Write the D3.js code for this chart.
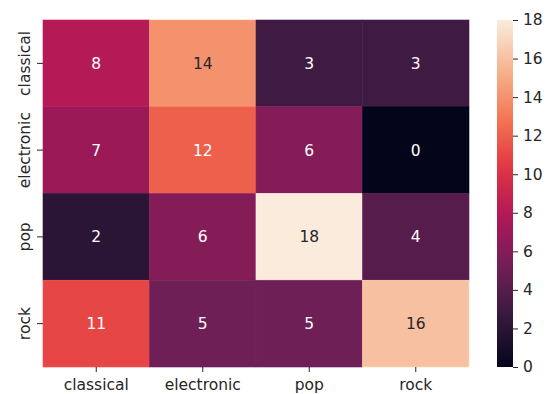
<!DOCTYPE html>
<html>
<head>
<meta charset="utf-8">
<script src="https://cdn.jsdelivr.net/npm/d3@7"></script>
<style>
  html, body { margin: 0; padding: 0; background: #fff; }
  svg text { font-family: "DejaVu Sans", sans-serif; }
</style>
</head>
<body>
<svg id="chart" width="556" height="394"></svg>
<script>
// Confusion-style count matrix: rows = true genre, columns = predicted genre
const rowLabels = ["classical", "electronic", "pop", "rock"];
const colLabels = ["classical", "electronic", "pop", "rock"];
const counts = [
  [8, 14, 3, 3],
  [7, 12, 6, 0],
  [2, 6, 18, 4],
  [11, 5, 5, 16]
];
const colorbarTicks = [0, 2, 4, 6, 8, 10, 12, 14, 16, 18];

// Rocket-like colour ramp stops
const rocketStops = ["#03051a", "#35193e", "#701f57", "#ad1759", "#e13342", "#f37651", "#f6b48f", "#faebdd"];
const rocket = d3.scaleLinear()
  .domain(rocketStops.map((_, i) => i / (rocketStops.length - 1)))
  .range(rocketStops)
  .interpolate(d3.interpolateRgb);

const svg = d3.select("#chart");
const plot = { left: 43, top: 20, right: 469, bottom: 367 };
const fs = 15.5;

const x = d3.scaleBand().domain(colLabels).range([plot.left, plot.right]);
const y = d3.scaleBand().domain(rowLabels).range([plot.top, plot.bottom]);
const color = d3.scaleSequential(rocket).domain([0, 18]);

const cells = [];
counts.forEach((row, i) => row.forEach((v, j) => cells.push({ r: rowLabels[i], c: colLabels[j], v })));

svg.append("g").selectAll("rect").data(cells).join("rect")
  .attr("x", d => x(d.c))
  .attr("y", d => y(d.r))
  .attr("width", x.bandwidth())
  .attr("height", y.bandwidth())
  .attr("fill", d => color(d.v))
  .attr("stroke", d => d3.color(color(d.v)).brighter(0.35))
  .attr("stroke-width", 0.6);

function luminance(c) {
  const rgb = d3.rgb(c);
  const f = u => { u /= 255; return u <= 0.03928 ? u / 12.92 : Math.pow((u + 0.055) / 1.055, 2.4); };
  return 0.2126 * f(rgb.r) + 0.7152 * f(rgb.g) + 0.0722 * f(rgb.b);
}

svg.append("g").selectAll("text").data(cells).join("text")
  .attr("x", d => x(d.c) + x.bandwidth() / 2)
  .attr("y", d => y(d.r) + y.bandwidth() / 2)
  .attr("dy", "0.36em")
  .attr("text-anchor", "middle")
  .attr("font-size", fs)
  .attr("fill", d => luminance(color(d.v)) > 0.408 ? "#262626" : "#ffffff")
  .text(d => d.v);

// Axes
const xAxis = svg.append("g")
  .attr("transform", `translate(0,${plot.bottom})`)
  .call(d3.axisBottom(x).tickSize(5).tickPadding(5));
const yAxis = svg.append("g")
  .attr("transform", `translate(${plot.left},0)`)
  .call(d3.axisLeft(y).tickSize(6).tickPadding(5));

[xAxis, yAxis].forEach(g => {
  g.select(".domain").remove();
  g.selectAll(".tick line").attr("stroke", "#262626").attr("stroke-width", 1);
  g.selectAll(".tick text").attr("fill", "#262626").attr("font-size", fs).attr("font-family", "DejaVu Sans");
});
xAxis.selectAll(".tick text").attr("dy", "0.85em");
yAxis.selectAll(".tick text")
  .attr("text-anchor", "middle")
  .attr("x", 0)
  .attr("y", -13)
  .attr("dy", "0")
  .attr("transform", "rotate(-90)");

// Colour bar
const cb = { x: 497, w: 16, top: 20, bottom: 367 };
const cbScale = d3.scaleLinear().domain([0, 18]).range([cb.bottom, cb.top]);
const defs = svg.append("defs");
const grad = defs.append("linearGradient").attr("id", "rocketGrad")
  .attr("x1", 0).attr("y1", 1).attr("x2", 0).attr("y2", 0);
d3.range(0, 1.0001, 0.05).forEach(t => {
  grad.append("stop").attr("offset", t).attr("stop-color", rocket(t));
});
svg.append("rect")
  .attr("x", cb.x).attr("y", cb.top)
  .attr("width", cb.w).attr("height", cb.bottom - cb.top)
  .attr("fill", "url(#rocketGrad)");

const cbAxis = svg.append("g")
  .attr("transform", `translate(${cb.x + cb.w},0)`)
  .call(d3.axisRight(cbScale).tickValues(colorbarTicks).tickSize(5).tickPadding(5));
cbAxis.select(".domain").remove();
cbAxis.selectAll(".tick line").attr("stroke", "#262626");
cbAxis.selectAll(".tick text").attr("fill", "#262626").attr("font-size", fs).attr("font-family", "DejaVu Sans");
</script>
</body>
</html>
